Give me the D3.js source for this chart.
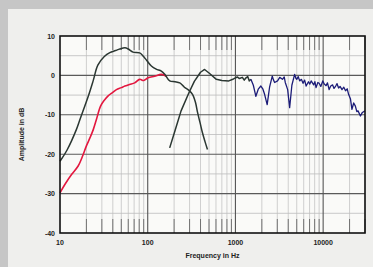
<!DOCTYPE html>
<html>
<head>
<meta charset="utf-8">
<script src="https://cdn.jsdelivr.net/npm/d3@7"></script>
<style>
body { margin: 0; background: #c6c6c6; }
text { font-family: "Liberation Sans", Arial, sans-serif; }
</style>
</head>
<body>
<div id="viz"></div>
<script>
var width = 373,
    height = 267;

// woofer (dark) response
var wooferFreq = [10, 12, 15.4, 17, 21, 24, 27, 32, 37, 43, 48, 55, 60, 68, 81, 92, 110, 125, 143, 157, 178, 205, 232, 262, 295, 324, 350, 370, 395, 420, 450, 480];
var wooferDb   = [-21.8, -19, -13.7, -11, -5.3, -1.2, 2.6, 4.8, 5.8, 6.3, 6.7, 7.0, 6.7, 5.9, 5.7, 4.5, 2.4, 1.6, 1.1, 0.25, -1.4, -1.6, -1.9, -3.0, -3.8, -4.8, -6.8, -9.4, -12, -14.5, -16.8, -18.8];

// nearfield (red) response
var redFreq = [10, 11.5, 13.6, 16.1, 18, 20, 22, 24, 26, 29, 32, 35.4, 40, 44, 50, 55, 62, 71, 81, 90, 101, 120, 143, 163];
var redDb   = [-29.8, -27.5, -25.1, -23, -20.6, -17.9, -15.8, -13.7, -11.2, -7.8, -6.3, -5.2, -4.3, -3.6, -3.1, -2.7, -2.3, -1.9, -1.0, -1.3, -0.6, -0.2, 0.25, -0.2];

// tweeter (dark) response
var tweetFreq = [178, 205, 240, 295, 340, 400, 445, 500, 606, 700, 840, 950, 1050, 1110, 1200, 1260, 1320, 1380, 1440, 1500];
var tweetDb   = [-18.4, -14, -9, -4.4, -1.5, 0.8, 1.5, 0.6, -1.0, -1.3, -1.4, -0.9, -0.4, -0.8, -0.5, -1.2, -0.6, -0.3, -1.4, -1.0];

// high frequency (blue) response
var hfFreq = [1500, 1600, 1710, 1820, 1950, 2050, 2150, 2300, 2450, 2630, 2720, 2800, 3020, 3200, 3440, 3600, 3700, 3940, 4150, 4400, 4730, 4900, 5000, 5200, 5400, 5650, 5900, 6150, 6400, 6800, 7050, 7300, 7800, 8050, 8300, 8700, 9000, 9400, 9900, 10300, 10800, 11200, 11700, 12200, 12800, 13300, 13900, 14400, 15000, 15600, 16400, 17200, 18000, 18800, 19500, 20500, 21300, 22300, 23300, 24200, 25000, 26600, 28000, 30000];
var hfDb   = [-1.0, -2.5, -5.3, -3.5, -2.7, -3.4, -4.8, -7.4, -3.0, -0.2, -1.2, -1.8, -1.4, -0.5, -1.0, -0.4, -1.8, -3.6, -8.2, -2.5, 0.25, -0.8, -1.0, -0.3, -1.4, -1.0, -2.0, -1.2, -2.7, -1.6, -2.2, -1.4, -2.4, -1.6, -3.1, -1.8, -2.0, -2.8, -1.4, -2.2, -2.6, -1.9, -3.6, -2.7, -2.4, -3.3, -2.7, -2.1, -3.2, -2.8, -3.6, -3.0, -3.9, -3.4, -4.8, -6.0, -8.6, -7.0, -7.8, -9.2, -9.0, -10.3, -9.4, -9.0];

var xTicks = [10, 100, 1000, 10000];
var yTicks = [10, 0, -10, -20, -30, -40];

var margin = {left: 60, top: 36, right: 8, bottom: 34};
var plotW = width - margin.left - margin.right,
    plotH = height - margin.top - margin.bottom;

var svg = d3.select("#viz")
    .append("svg")
    .attr("width", width)
    .attr("height", height);

// light panel inside the grey frame
svg.append("rect")
    .attr("x", 8).attr("y", 9)
    .attr("width", width - 8).attr("height", height - 9)
    .attr("fill", "#efefed");

var x = d3.scaleLog().domain([10, 30000]).range([margin.left, margin.left + plotW]);
var y = d3.scaleLinear().domain([-40, 10]).range([margin.top + plotH, margin.top]);

svg.append("rect")
    .attr("x", x(10)).attr("y", y(10))
    .attr("width", x(30000) - x(10)).attr("height", y(-40) - y(10))
    .attr("fill", "#fafaf8");

// ****************** grid ***************************
var minorX = [];
[10, 100, 1000, 10000].forEach(function(dec) {
  for (var k = 2; k <= 9; k++) if (dec * k <= 30000) minorX.push(dec * k);
});
var grid = svg.append("g");

grid.selectAll("line.mx")
    .data(minorX)
    .enter().append("line")
    .attr("x1", function(d) { return x(d); })
    .attr("x2", function(d) { return x(d); })
    .attr("y1", y(10)).attr("y2", y(-40))
    .attr("stroke", "#c4c4c4").attr("stroke-width", 0.8);

// darker inner tick marks along top and bottom
grid.selectAll("line.tt")
    .data(minorX)
    .enter().append("line")
    .attr("x1", function(d) { return x(d); })
    .attr("x2", function(d) { return x(d); })
    .attr("y1", y(10)).attr("y2", y(10) + 14)
    .attr("stroke", "#666").attr("stroke-width", 0.9);

grid.selectAll("line.bt")
    .data(minorX)
    .enter().append("line")
    .attr("x1", function(d) { return x(d); })
    .attr("x2", function(d) { return x(d); })
    .attr("y1", y(-40) - 14).attr("y2", y(-40))
    .attr("stroke", "#666").attr("stroke-width", 0.9);

grid.selectAll("line.hy")
    .data(d3.range(-35, 10, 5))
    .enter().append("line")
    .attr("x1", x(10)).attr("x2", x(30000))
    .attr("y1", function(d) { return y(d); })
    .attr("y2", function(d) { return y(d); })
    .attr("stroke", function(d) { return d % 10 === 0 ? "#5a5a5a" : "#bdbdbd"; })
    .attr("stroke-width", function(d) { return d % 10 === 0 ? 1.1 : 0.8; });

grid.selectAll("line.vx")
    .data([100, 1000, 10000])
    .enter().append("line")
    .attr("x1", function(d) { return x(d); })
    .attr("x2", function(d) { return x(d); })
    .attr("y1", y(10)).attr("y2", y(-40))
    .attr("stroke", "#555").attr("stroke-width", 1.1);

// ****************** curves ***************************
function drawCurve(freqs, dbs, color, w, curve) {
  var line = d3.line()
      .curve(curve)
      .x(function(d) { return x(d[0]); })
      .y(function(d) { return y(d[1]); });
  svg.append("path")
      .datum(d3.zip(freqs, dbs))
      .attr("d", line)
      .attr("fill", "none")
      .attr("stroke", color)
      .attr("stroke-width", w)
      .attr("stroke-linejoin", "round");
}

drawCurve(redFreq, redDb, "#e3173f", 1.6, d3.curveCatmullRom);
drawCurve(wooferFreq, wooferDb, "#2b3732", 1.5, d3.curveCatmullRom);
drawCurve(tweetFreq, tweetDb, "#2b3732", 1.5, d3.curveLinear);
drawCurve(hfFreq, hfDb, "#1c1c78", 1.3, d3.curveLinear);

// frame
svg.append("rect")
    .attr("x", x(10)).attr("y", y(10))
    .attr("width", x(30000) - x(10)).attr("height", y(-40) - y(10))
    .attr("fill", "none")
    .attr("stroke", "#111").attr("stroke-width", 1.6);

// ****************** labels ***************************
svg.selectAll("text.yt")
    .data(yTicks)
    .enter().append("text")
    .attr("x", x(10) - 5)
    .attr("y", function(d) { return y(d) + 2.5; })
    .attr("text-anchor", "end")
    .style("font-size", "7px")
    .style("font-weight", "bold")
    .attr("fill", "#222")
    .text(function(d) { return d; });

svg.selectAll("text.xt")
    .data(xTicks)
    .enter().append("text")
    .attr("x", function(d) { return x(d); })
    .attr("y", y(-40) + 12)
    .attr("text-anchor", "middle")
    .style("font-size", "7px")
    .style("font-weight", "bold")
    .attr("fill", "#222")
    .text(function(d) { return d; });

svg.append("text")
    .attr("x", (x(10) + x(30000)) / 2)
    .attr("y", 258)
    .attr("text-anchor", "middle")
    .style("font-size", "7px")
    .style("font-weight", "bold")
    .attr("fill", "#222")
    .text("Frequency in Hz");

svg.append("text")
    .attr("transform", "translate(24," + ((y(10) + y(-40)) / 2) + ") rotate(-90)")
    .attr("text-anchor", "middle")
    .style("font-size", "7px")
    .style("font-weight", "bold")
    .attr("fill", "#222")
    .text("Amplitude in dB");
</script>
</body>
</html>
